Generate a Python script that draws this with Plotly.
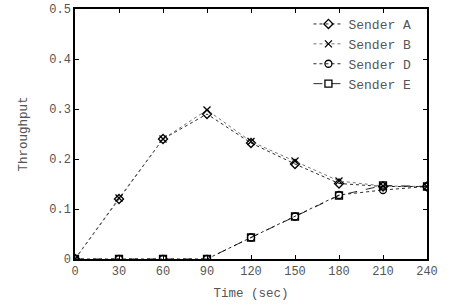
import plotly.graph_objects as go

time_sec = [0, 30, 60, 90, 120, 150, 180, 210, 240]
sender_a = [0, 0.120, 0.240, 0.290, 0.232, 0.190, 0.151, 0.145, 0.145]
sender_b = [0, 0.122, 0.240, 0.298, 0.235, 0.196, 0.156, 0.146, 0.145]
sender_d = [0, 0, 0, 0, 0.043, 0.085, 0.128, 0.138, 0.145]
sender_e = [0, 0, 0, 0, 0.043, 0.085, 0.127, 0.147, 0.145]
x_ticks = [0, 30, 60, 90, 120, 150, 180, 210, 240]
y_ticks = [0, 0.1, 0.2, 0.3, 0.4, 0.5]
y_tick_labels = ["0", "0.1", "0.2", "0.3", "0.4", "0.5"]

font = "Liberation Mono, Courier New, monospace"
txt = "#555555"
series = [
    ("Sender A", sender_a, "diamond-open", "dot", "#111111"),
    ("Sender B", sender_b, "x-thin-open", "dot", "#666666"),
    ("Sender D", sender_d, "circle-open", "dot", "#111111"),
    ("Sender E", sender_e, "square-open", "dash", "#111111"),
]

fig = go.Figure()
for name, ys, sym, dash, col in series:
    fig.add_trace(go.Scatter(
        x=time_sec, y=ys, name=name, mode="lines+markers",
        line=dict(color=col, width=0.9, dash=dash),
        marker=dict(symbol=sym, size=7, color="#000000",
                    line=dict(width=1.3, color="#000000")),
    ))

axis_common = dict(
    showline=True, linecolor="#000000", linewidth=1.5, mirror="ticks",
    ticks="inside", ticklen=4, tickcolor="#000000", showgrid=False,
    zeroline=False, automargin=False,
    tickfont=dict(family=font, size=12, color=txt),
)
fig.update_xaxes(range=[0, 240], tickvals=x_ticks, ticktext=[str(t) for t in x_ticks],
                 title=dict(text="Time (sec)", font=dict(family=font, size=12.5, color=txt), standoff=10),
                 **axis_common)
fig.update_yaxes(range=[0, 0.5], tickvals=y_ticks, ticktext=y_tick_labels,
                 title=dict(text="Throughput", font=dict(family=font, size=12.5, color=txt), standoff=19),
                 **axis_common)

fig.update_layout(
    width=454, height=305,
    margin=dict(l=75, r=27, t=9, b=46),
    plot_bgcolor="white", paper_bgcolor="white",
    font=dict(family=font, size=12, color=txt),
    legend=dict(x=0.97, y=1.0, xanchor="right", yanchor="top",
                bgcolor="rgba(0,0,0,0)", tracegroupgap=0,
                font=dict(family=font, size=13, color=txt),
                itemwidth=30),
    showlegend=True,
)

fig.write_html("out.html", config={"displayModeBar": False},
               post_script="document.body.style.margin='0';")
